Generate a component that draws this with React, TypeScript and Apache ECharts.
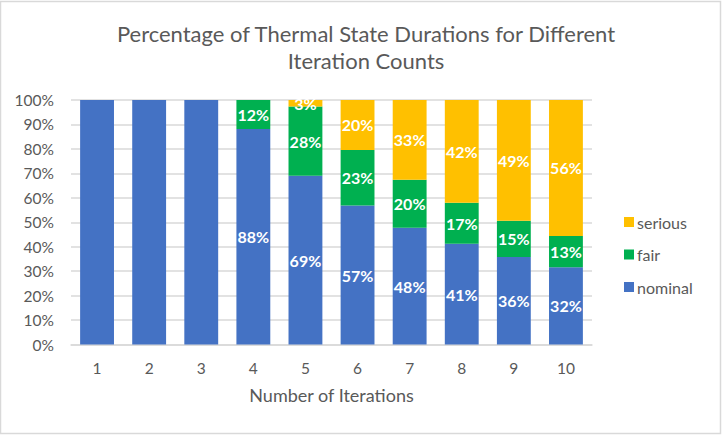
import React, { useEffect, useRef } from "react";
import * as echarts from "echarts";

const categories = ["1", "2", "3", "4", "5", "6", "7", "8", "9", "10"];
const nominal = [100, 100, 100, 88.1, 69.0, 56.8, 47.8, 41.2, 35.8, 31.6];
const fair = [0, 0, 0, 11.9, 28.3, 22.8, 19.6, 16.8, 14.8, 12.8];
const serious = [0, 0, 0, 0, 2.7, 20.4, 32.6, 42.0, 49.4, 55.6];
const yTicks = [0, 10, 20, 30, 40, 50, 60, 70, 80, 90, 100];

const FONT = "Lato, 'Open Sans', sans-serif";
const GREY = "#595959";

export default function App() {
  const ref = useRef<HTMLDivElement>(null);
  useEffect(() => {
    document.body.style.margin = "0";
    const chart = echarts.init(ref.current!, null, { renderer: "svg" });
    const label = {
      show: true,
      position: "inside",
      color: "#fff",
      fontWeight: "bold",
      fontSize: 16,
      fontFamily: FONT,
      formatter: (p: any) => (p.value > 0 && p.value < 100 ? Math.round(p.value) + "%" : ""),
    };
    const mk = (name: string, data: number[], color: string) => ({
      name,
      type: "bar",
      stack: "total",
      data,
      barCategoryGap: "35%",
      itemStyle: { color },
      label,
    });
    chart.setOption({
      animation: false,
      textStyle: { fontFamily: FONT },
      graphic: [
        {
          type: "rect",
          shape: { x: 0.5, y: 1.5, width: 720, height: 432 },
          style: { fill: "none", stroke: "#d9d9d9", lineWidth: 1.5 },
          silent: true,
        },
      ],
      title: {
        text: "Percentage of Thermal State Durations for Different\nIteration Counts",
        left: 361,
        textAlign: "center",
        top: 15,
        textStyle: {
          fontFamily: FONT,
          fontSize: 22,
          fontWeight: "normal",
          color: GREY,
          lineHeight: 27,
        },
      },
      legend: {
        data: ["serious", "fair", "nominal"],
        orient: "vertical",
        left: 619,
        top: 209,
        itemWidth: 10,
        itemHeight: 10,
        itemGap: 16.5,
        icon: "rect",
        textStyle: { fontFamily: FONT, fontSize: 16, color: GREY, padding: [0, 0, 0, -2] },
      },
      grid: { left: 71, right: 130, top: 100, bottom: 91.5, containLabel: false },
      xAxis: {
        type: "category",
        data: categories,
        name: "Number of Iterations",
        nameLocation: "middle",
        nameGap: 41,
        nameTextStyle: { fontFamily: FONT, fontSize: 18, color: GREY },
        axisLine: { lineStyle: { color: "#d9d9d9", width: 1.5 } },
        axisTick: { show: false },
        axisLabel: { color: GREY, fontSize: 15.5, fontFamily: FONT, margin: 15 },
      },
      yAxis: {
        type: "value",
        min: yTicks[0],
        max: yTicks[yTicks.length - 1],
        interval: 10,
        axisLine: { show: false },
        axisTick: { show: false },
        splitLine: { lineStyle: { color: "#d9d9d9", width: 1.5 } },
        axisLabel: {
          color: GREY,
          fontSize: 15.5,
          fontFamily: FONT,
          margin: 17,
          formatter: (v: number) => v + "%",
        },
      },
      series: [
        mk("nominal", nominal, "#4472C4"),
        mk("fair", fair, "#00B050"),
        mk("serious", serious, "#FFC000"),
      ],
    });
    return () => chart.dispose();
  }, []);
  return <div ref={ref} style={{ position: "absolute", left: 0, top: 0, width: 722, height: 436 }} />;
}
